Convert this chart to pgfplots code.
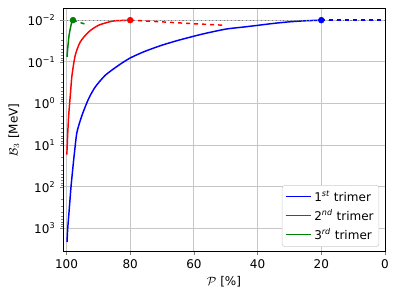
\documentclass[border=0pt]{standalone}
\usepackage{fontspec}
\setmainfont{DejaVu Sans}
\usepackage{pgfplots}
\pgfplotsset{compat=1.18}
\definecolor{mpgreen}{RGB}{0,128,0}
\begin{document}
\fontsize{9pt}{11pt}\selectfont
\begin{tikzpicture}
\begin{axis}[
  scale only axis,
  width=241.5pt, height=182.5pt,
  at={(0,0)}, anchor=south west,
  x dir=reverse, xmin=0, xmax=101.1,
  ymode=log, y dir=reverse, ymin=0.0052, ymax=3630,
  xtick={0,20,40,60,80,100},
  ytick={0.01,0.1,1,10,100,1000},
  yticklabels={{10\textsuperscript{−2}},{10\textsuperscript{−1}},{10\textsuperscript{0}},{10\textsuperscript{1}},{10\textsuperscript{2}},{10\textsuperscript{3}}},
  /pgf/number format/assume math mode=true,
  xtick pos=bottom, ytick pos=left,
  tick align=outside,
  major tick length=2.6pt, minor tick length=1.5pt,
  grid=major,
  major grid style={gray!45, line width=0.6pt},
  tick label style={font=\fontsize{9pt}{11pt}\selectfont},
  xlabel={$\mathcal{P}$ [\%]},
  ylabel={$\mathcal{B}_3$ [MeV]},
  label style={font=\fontsize{9pt}{11pt}\selectfont},
  legend style={at={(0.982,0.02)}, anchor=south east, draw=gray!40, rounded corners=2pt,
    font=\fontsize{9pt}{11pt}\selectfont, row sep=0.5pt, inner sep=2pt},
  legend cell align=left,
]
\addlegendimage{legend image code/.code={\draw[blue, line width=1.1pt] (0pt,0.3pt) -- (19pt,0.3pt);}}
\addlegendentry{1\textsuperscript{\textit{st}} trimer}
\addlegendimage{legend image code/.code={\draw[red, line width=1.1pt] (0pt,0.3pt) -- (19pt,0.3pt);}}
\addlegendentry{2\textsuperscript{\textit{nd}} trimer}
\addlegendimage{legend image code/.code={\draw[mpgreen, line width=1.1pt] (0pt,0.3pt) -- (19pt,0.3pt);}}
\addlegendentry{3\textsuperscript{\textit{rd}} trimer}
\addplot[blue, line width=1.1pt, smooth, tension=0.4, forget plot] coordinates {
(99.84,2140) (99.62,1016) (99.2,400) (98.59,102) (98.0,35) (97.42,13.3) (96.70,4.84)
(95.13,1.92) (93.03,0.762) (90.96,0.401) (87.82,0.210) (83.61,0.121) (79.97,0.0806)
(75.26,0.0556) (70.02,0.0399) (64.77,0.0303) (57.46,0.0217) (50,0.0164)
(45,0.0148) (40,0.01334) (35,0.01197) (30,0.01096) (25,0.01035) (20,0.01)};
\addplot[red, line width=1.1pt, smooth, tension=0.4, forget plot] coordinates {
(99.86,17) (99.84,13.3) (99.6,5) (99.31,1.92) (98.8,0.635) (98.27,0.21) (97.24,0.069)
(95.67,0.0332) (93.03,0.0191) (89.89,0.0132) (85.71,0.0106) (83,0.0102) (80,0.01)};
\addplot[mpgreen, line width=1.1pt, forget plot] coordinates {
(99.84,0.076) (99.53,0.040) (99.2,0.023) (98.8,0.0158) (98.4,0.0115) (97.96,0.01)};
\addplot[gray, dotted, line width=0.8pt, forget plot] coordinates {(101.1,0.01) (0,0.01)};
\addplot[blue, dashed, line width=1.1pt, forget plot] coordinates {(20,0.01) (0,0.01)};
\addplot[red, dashed, line width=1.1pt, forget plot] coordinates {(80,0.01) (70,0.0110) (60,0.0122) (50,0.0133)};
\addplot[mpgreen, dashed, line width=1.1pt, forget plot] coordinates {(97.96,0.01) (94.1,0.0125)};
\addplot[blue, only marks, mark=*, mark size=2.2pt, forget plot] coordinates {(20,0.01)};
\addplot[red, only marks, mark=*, mark size=2.2pt, forget plot] coordinates {(80,0.01)};
\addplot[mpgreen, only marks, mark=*, mark size=2.2pt, forget plot] coordinates {(97.96,0.01)};
\end{axis}
\pgfresetboundingbox
\path[use as bounding box] (-47.25pt,-35.5pt) rectangle (252pt,188.75pt);
\end{tikzpicture}
\end{document}
